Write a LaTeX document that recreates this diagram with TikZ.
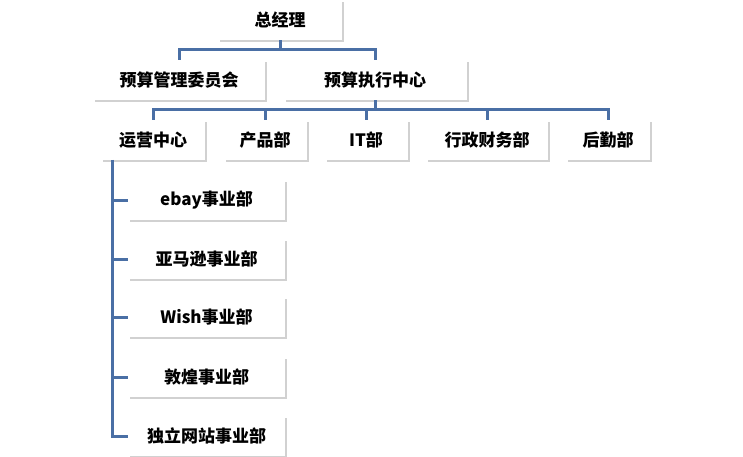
\documentclass[tikz,border=0pt]{standalone}
\usepackage{fontspec}
\setmainfont{Noto Sans CJK SC}
\usetikzlibrary{shadows}
\definecolor{orgblue}{HTML}{4A6FA5}
\tikzset{
  orgbox/.style={draw=none, fill=white, minimum height=40pt, inner sep=0pt,
    font=\fontsize{17}{19}\selectfont\bfseries,
    drop shadow={shadow xshift=2pt, shadow yshift=-2pt, fill=black!30, opacity=0.6}},
  orgline/.style={draw=orgblue, line width=3pt}
}
\begin{document}
\begin{tikzpicture}[x=1pt,y=-1pt]
  \useasboundingbox (0,0) rectangle (743,457);
  % junction points
  \coordinate (j1) at (280,50);
  \coordinate (j2) at (375,110);
  \coordinate (j3) at (112,160);

  \node[orgbox, minimum width=124pt] (ceo) at (280,20) {总经理};
  \node[orgbox, minimum width=172pt] (comm) at (179,80) {预算管理委员会};
  \node[orgbox, minimum width=183pt] (exec) at (375,80) {预算执行中心};

  \node[orgbox, minimum width=104pt] (ops) at (153,140) {运营中心};
  \node[orgbox, minimum width=83pt] (prod) at (265,140) {产品部};
  \node[orgbox, minimum width=83pt] (it) at (366,140) {IT部};
  \node[orgbox, minimum width=122pt] (fin) at (487,140) {行政财务部};
  \node[orgbox, minimum width=84pt] (log) at (608,140) {后勤部};

  \foreach \n/\y/\t in {ebay/200/ebay事业部, amz/259/亚马逊事业部,
      wish/317/Wish事业部, dh/377/敦煌事业部, web/436/独立网站事业部}
    \node[orgbox, minimum width=157pt] (\n) at (206.5,\y) {\t};

  % lines
  \draw[orgline] (ceo.south) -- (j1);
  \draw[orgline] (comm.north) |- (j1) -| (exec.north);
  \draw[orgline] (exec.south) -- (j2);
  \draw[orgline] (ops.north) |- (j2) -| (log.north);
  \foreach \n in {prod,it,fin}
    \draw[orgline] (\n.north) -- (\n.north |- j2);
  \draw[orgline] (j3) -- (j3 |- web.west) -- (web.west);
  \foreach \n in {ebay,amz,wish,dh}
    \draw[orgline] (\n.west) -- (\n.west -| j3);
  \draw[orgline] (ops.south -| j3) -- (j3);
\end{tikzpicture}
\end{document}
